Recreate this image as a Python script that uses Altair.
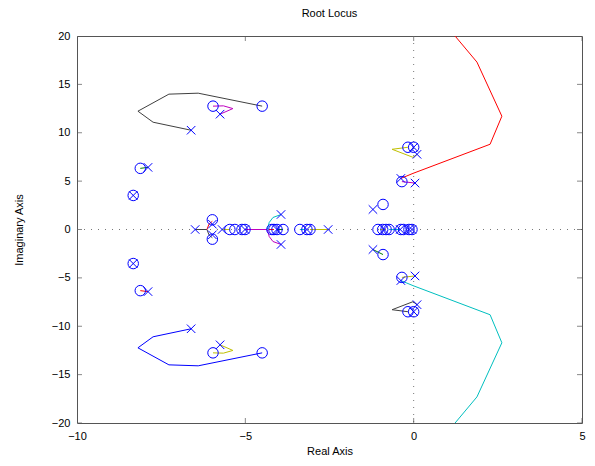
import altair as alt
import pandas as pd

FONT = "Liberation Sans"

# ---- axis ticks ----
x_ticks = [-10, -5, 0, 5]
y_ticks = [-20, -15, -10, -5, 0, 5, 10, 15, 20]

# ---- poles (x markers) ----
pole_re = [-6.61, -6.61, -5.75, -5.75, -7.89, -7.89, -8.33, -8.33, -5.98, -5.98,
           -3.94, -3.94, -1.21, -1.21, -0.38, -0.38, 0.04, 0.04, 0.10, 0.10, 0.0, 0.0,
           -6.49, -5.69, -5.01, -4.06, -3.17, -2.54, -0.88, -0.40, -0.14, -0.05]
pole_im = [10.26, -10.26, 11.92, -11.92, 6.42, -6.42, 3.52, -3.52, 0.55, -0.55,
           1.55, -1.55, 2.07, -2.07, 5.28, -5.28, 4.80, -4.80, 7.77, -7.77, 8.5, -8.5,
           0, 0, 0, 0, 0, 0, 0, 0, 0, 0]

# ---- zeros (o markers) ----
zero_re = [-4.50, -4.50, -5.96, -5.96, -8.12, -8.12, -8.33, -8.33, -5.98, -5.98,
           -0.91, -0.91, -0.35, -0.35, -0.17, -0.17, 0.0, 0.0,
           -5.46, -5.31, -5.10, -5.01, -4.21, -4.15, -4.06, -3.88, -3.38, -3.17, -3.08,
           -1.06, -0.92, -0.82, -0.73, -0.38, -0.30, -0.14, -0.05]
zero_im = [12.75, -12.75, 12.75, -12.75, 6.32, -6.32, 3.52, -3.52, 1.0, -1.0,
           2.59, -2.59, 4.95, -4.95, 8.5, -8.5, 8.5, -8.5,
           0, 0, 0, 0, 0, 0, 0, 0, 0, 0, 0,
           0, 0, 0, 0, 0, 0, 0, 0]

# ---- locus branches ----
b1_re = [-6.61, -7.74, -8.19, -7.27, -6.40, -4.50]
b1_im = [10.26, 11.09, 12.23, 13.99, 14.09, 12.75]
b2_re = [-6.61, -7.74, -8.19, -7.27, -6.40, -4.50]
b2_im = [-10.26, -11.09, -12.23, -13.99, -14.09, -12.75]
b3_re = [-5.75, -5.37, -5.65, -5.96]
b3_im = [11.92, 12.50, 12.78, 12.75]
b4_re = [-5.75, -5.37, -5.65, -5.96]
b4_im = [-11.92, -12.50, -12.78, -12.75]
b5_re = [-0.38, -0.02, 2.27, 2.62, 1.88, 1.23]
b5_im = [5.28, 5.80, 8.81, 11.71, 17.3, 20.0]
b6_re = [-0.38, -0.02, 2.27, 2.62, 1.88, 1.23]
b6_im = [-5.28, -5.80, -8.81, -11.71, -17.3, -20.0]
b7_re = [0.04, -0.35]
b7_im = [4.80, 4.95]
b8_re = [0.04, -0.35]
b8_im = [-4.80, -4.95]
b9_re = [0.10, -0.02, -0.64, -0.17]
b9_im = [7.77, 7.46, 8.29, 8.5]
b10_re = [0.10, -0.02, -0.64, -0.17]
b10_im = [-7.77, -7.46, -8.29, -8.5]
b11_re = [-7.89, -8.12]
b11_im = [6.42, 6.32]
b12_re = [-7.89, -8.12]
b12_im = [-6.42, -6.32]
b13_re = [-1.21, -0.91]
b13_im = [-2.07, -2.59]
b14_re = [-6.49, -6.14, -6.08, -5.98]
b14_im = [0, 0, -0.55, -0.85]
b15_re = [-6.14, -6.08, -5.98]
b15_im = [0, 0.55, 0.85]
b16_re = [-5.69, -5.46]
b16_im = [0, 0]
b17_re = [-5.01, -4.35, -4.29, -4.18, -3.94]
b17_im = [0, 0, -0.73, -1.24, -1.55]
b18_re = [-4.35, -4.29, -4.18, -3.94]
b18_im = [0, 0.73, 1.24, 1.55]
b19_re = [-4.30, -4.15]
b19_im = [0, 0]
b20_re = [-4.06, -3.88]
b20_im = [0, 0]
b21_re = [-3.23, -3.38]
b21_im = [0, 0]
b22_re = [-2.54, -3.08]
b22_im = [0, 0]
b23_re = [-0.88, -1.0]
b23_im = [0, 0]
b24_re = [-0.40, -0.73]
b24_im = [0, 0]

branches = [
    ("k", b1_re, b1_im), ("b", b2_re, b2_im), ("m", b3_re, b3_im), ("y", b4_re, b4_im),
    ("r", b5_re, b5_im), ("c", b6_re, b6_im), ("m", b7_re, b7_im), ("y", b8_re, b8_im),
    ("y", b9_re, b9_im), ("k", b10_re, b10_im), ("g", b11_re, b11_im), ("r", b12_re, b12_im),
    ("g", b13_re, b13_im), ("k", b14_re, b14_im), ("r", b15_re, b15_im), ("y", b16_re, b16_im),
    ("m", b17_re, b17_im), ("c", b18_re, b18_im), ("r", b19_re, b19_im), ("g", b20_re, b20_im),
    ("c", b21_re, b21_im), ("y", b22_re, b22_im), ("y", b23_re, b23_im), ("c", b24_re, b24_im),
]
color_keys = ["b", "g", "r", "c", "m", "y", "k"]
color_vals = ["#0000ff", "#008000", "#ff0000", "#00bfbf", "#bf00bf", "#bfbf00", "#404040"]

rows = []
for i, (c, xs, ys) in enumerate(branches):
    for j, (a, b) in enumerate(zip(xs, ys)):
        rows.append({"branch": i, "ord": j, "col": c, "re": a, "im": b})
lines_df = pd.DataFrame(rows)
poles_df = pd.DataFrame({"re": pole_re, "im": pole_im})
zeros_df = pd.DataFrame({"re": zero_re, "im": zero_im})
xt_df = pd.DataFrame({"re": x_ticks})
yt_df = pd.DataFrame({"im": y_ticks})

xscale = alt.Scale(domain=[-10, 5], nice=False, zero=False)
yscale = alt.Scale(domain=[-20, 20], nice=False, zero=False)

X = alt.X("re:Q", scale=xscale,
          axis=alt.Axis(values=x_ticks, title="Real Axis", labelPadding=7, titlePadding=4,
                        labelFlush=False))
Y = alt.Y("im:Q", scale=yscale,
          axis=alt.Axis(values=y_ticks, title="Imaginary Axis", labelPadding=7, titlePadding=27,
                        labelFlush=False))

base = alt.Chart(lines_df)

zero_v = alt.Chart(xt_df).mark_rule(color="#777", strokeDash=[1, 6], strokeWidth=1).encode(
    x=alt.X("re:Q", scale=xscale)).transform_filter("datum.re == 0")
zero_h = alt.Chart(yt_df).mark_rule(color="#777", strokeDash=[1, 6], strokeWidth=1).encode(
    y=alt.Y("im:Q", scale=yscale)).transform_filter("datum.im == 0")

lines = base.mark_line(strokeWidth=1, clip=True).encode(
    x=X, y=Y,
    color=alt.Color("col:N", scale=alt.Scale(domain=color_keys, range=color_vals), legend=None),
    detail="branch:N",
    order="ord:Q",
)

xpath = "M-1,-1L1,1M1,-1L-1,1"
poles = alt.Chart(poles_df).mark_point(shape=xpath, size=72, color="#0000ff", strokeWidth=1,
                                       filled=False, opacity=1).encode(x=X, y=Y)
zeros = alt.Chart(zeros_df).mark_point(shape="circle", size=110, color="#0000ff", strokeWidth=1,
                                       filled=False, opacity=1).encode(x=X, y=Y)

tick_bot = alt.Chart(xt_df).mark_tick(clip=True, size=10, thickness=1, color="#555").encode(
    x=alt.X("re:Q", scale=xscale), y=alt.value(387))
tick_top = alt.Chart(xt_df).mark_tick(clip=True, size=10, thickness=1, color="#555").encode(
    x=alt.X("re:Q", scale=xscale), y=alt.value(0))
tick_left = alt.Chart(yt_df).mark_tick(clip=True, size=10, thickness=1, color="#555").encode(
    y=alt.Y("im:Q", scale=yscale), x=alt.value(0))
tick_right = alt.Chart(yt_df).mark_tick(clip=True, size=10, thickness=1, color="#555").encode(
    y=alt.Y("im:Q", scale=yscale), x=alt.value(505))

chart = alt.layer(zero_v, zero_h, tick_bot, tick_top, tick_left, tick_right, lines, zeros, poles).properties(
    width=505, height=387,
    title=alt.TitleParams("Root Locus", fontSize=11, fontWeight="normal", font=FONT,
                          color="black", offset=11, frame="group"),
    autosize=alt.AutoSizeParams(type="none"),
    padding={"left": 69, "top": 28, "right": 5, "bottom": 35},
).configure_view(stroke="#555", strokeWidth=1).configure_axis(
    grid=False, domain=False, ticks=False,
    labelFont=FONT, titleFont=FONT, labelFontSize=11, titleFontSize=11,
    titleFontWeight="normal", labelColor="black", titleColor="black",
)

chart.save("out.html", embed_options={"renderer": "svg", "actions": False})
